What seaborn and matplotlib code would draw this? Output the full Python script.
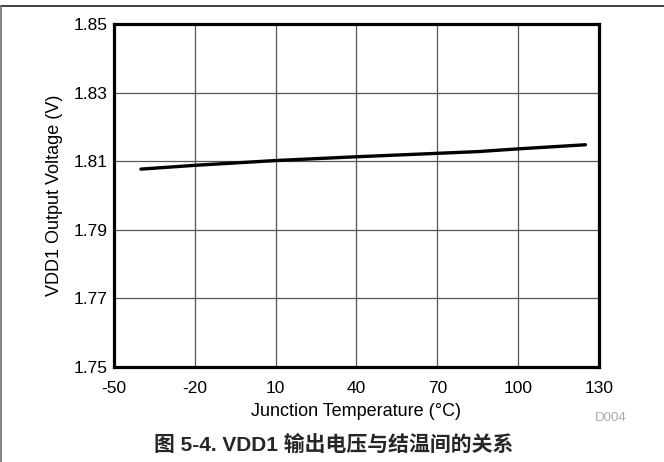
import matplotlib
matplotlib.use("Agg")
import matplotlib.pyplot as plt
from matplotlib.lines import Line2D
import seaborn as sns
import pandas as pd

# Junction temperature (°C) and VDD1 output voltage (V)
temperature = [-40, -20, 10, 40, 70, 85, 100, 125]
vdd1_voltage = [1.8077, 1.8088, 1.8102, 1.8113, 1.8123, 1.8128, 1.8136, 1.8148]

x_ticks = [-50, -20, 10, 40, 70, 100, 130]
y_ticks = [1.75, 1.77, 1.79, 1.81, 1.83, 1.85]

sns.set_theme(style="white")
plt.rcParams["font.family"] = ["Liberation Sans", "Noto Sans CJK SC"]

df = pd.DataFrame({"temp": temperature, "volt": vdd1_voltage})

fig = plt.figure(figsize=(6.64, 4.62), dpi=100)
ax = fig.add_axes([0.1717, 0.2056, 0.7303, 0.7424])

sns.lineplot(data=df, x="temp", y="volt", ax=ax, color="black", linewidth=2.4)

ax.set_xlim(-50, 130)
ax.set_ylim(1.75, 1.85)
ax.set_xticks(x_ticks)
ax.set_yticks(y_ticks)
ax.set_xticklabels([str(t) for t in x_ticks])
ax.set_yticklabels([f"{v:.2f}" for v in y_ticks])
ax.tick_params(axis="both", length=0, labelsize=12.5, colors="black")
ax.tick_params(axis="x", pad=10)
ax.tick_params(axis="y", pad=4.5)

ax.grid(True, color="#555555", linewidth=0.9)
for s in ax.spines.values():
    s.set_color("black")
    s.set_linewidth(2.3)
    s.set_visible(True)

ax.set_xlabel("Junction Temperature (°C)", fontsize=13, labelpad=5, color="black")
ax.set_ylabel("VDD1 Output Voltage (V)", fontsize=13, labelpad=8, color="black")

fig.text(0.944, 0.095, "D004", fontsize=9.5, color="#aaaaaa", ha="right", va="center")
fig.text(0.503, 0.037, "图 5-4. VDD1 输出电压与结温间的关系", fontsize=15,
         fontweight="bold", ha="center", va="center",
         family=["Liberation Sans", "Noto Sans CJK SC"])

# page frame lines
fig.add_artist(Line2D([0.0, 1.0], [0.987, 0.987], transform=fig.transFigure,
                      color="#333333", linewidth=1.3))
fig.add_artist(Line2D([0.002, 0.002], [0.0, 0.987], transform=fig.transFigure,
                      color="#777777", linewidth=1.3))

fig.savefig("out.png", dpi=100)
